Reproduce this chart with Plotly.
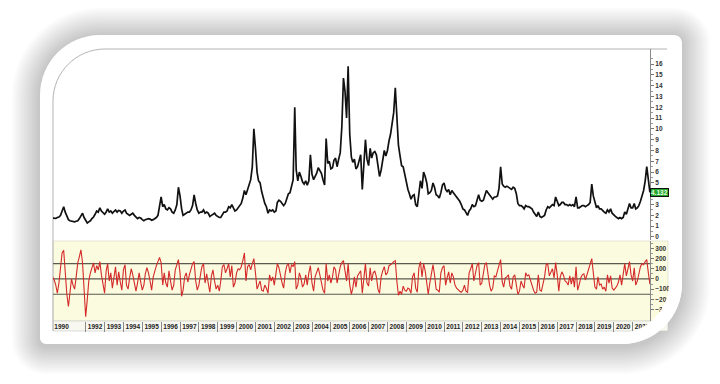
import pandas as pd
import plotly.graph_objects as go

W, H = 720, 384

# ---------------- data (monthly, Apr 1990 - Dec 2021) ----------------
price_1990s = [
    1.75, 1.70, 1.72, 1.80, 1.85, 2.00, 2.40, 2.80, 2.30,
    1.90, 1.60, 1.50, 1.45, 1.42, 1.40, 1.45, 1.50, 1.70, 1.95, 2.20, 1.80,
    1.50, 1.30, 1.40, 1.50, 1.70, 1.85, 2.10, 2.40, 2.30, 2.70, 2.40, 2.20,
    2.10, 2.30, 2.60, 2.30, 2.40, 2.20, 2.35, 2.50, 2.30, 2.45, 2.40, 2.20,
    2.40, 2.50, 2.20, 2.10, 2.00, 2.10, 2.20, 2.00, 1.80, 1.70, 1.80, 1.75,
    1.60, 1.50, 1.60, 1.65, 1.70, 1.65, 1.55, 1.60, 1.70, 1.80, 2.00, 2.70,
    3.70, 2.80, 3.00, 2.60, 2.50, 2.70, 2.60, 2.30, 2.20, 2.50, 3.00, 4.60,
    3.80, 2.60, 2.00, 2.10, 2.20, 2.30, 2.30, 2.50, 2.90, 3.90, 3.10, 2.50,
    2.20, 2.30, 2.30, 2.50, 2.20, 2.30, 2.20, 1.90, 2.00, 2.10, 2.20, 2.00,
    1.90, 1.80, 1.80, 2.10, 2.30, 2.30, 2.40, 2.80, 2.70, 3.00, 2.60, 2.40,
]
price_2000s = [
    2.50, 2.70, 2.90, 3.10, 3.60, 4.30, 3.90, 4.40, 5.00, 5.30, 6.50, 10.0,
    8.20, 6.00, 5.20, 5.00, 4.20, 3.50, 3.10, 2.80, 2.20, 2.50, 2.40, 2.50,
    2.30, 2.40, 3.20, 3.40, 3.30, 3.10, 2.90, 3.10, 3.60, 4.00, 4.10, 4.70,
    5.30, 12.0, 6.20, 5.20, 6.00, 5.60, 5.10, 4.90, 5.20, 4.80, 5.20, 7.60,
    5.80, 5.30, 5.60, 5.90, 6.40, 6.20, 5.90, 5.30, 4.80, 9.10, 6.80, 7.00,
    6.30, 6.40, 7.10, 7.30, 6.50, 7.20, 7.80, 10.2, 14.7, 13.5, 11.0, 15.8,
    9.50, 7.40, 6.90, 7.20, 6.30, 6.50, 7.00, 7.60, 4.40, 6.50, 9.00, 7.20,
    6.60, 8.20, 7.30, 7.80, 7.90, 7.60, 6.50, 5.60, 6.20, 7.20, 8.00, 7.50,
    8.00, 8.90, 9.50, 10.5, 11.5, 13.8, 11.5, 8.50, 7.50, 6.60, 6.50, 5.70,
    5.00, 4.40, 4.00, 3.50, 3.80, 3.90, 3.00, 2.80, 4.00, 5.20, 4.50, 6.00,
]
price_2010s = [
    5.60, 5.00, 4.00, 4.10, 4.30, 5.00, 4.60, 3.90, 3.80, 3.60, 4.10, 4.80,
    5.00, 4.40, 4.20, 4.40, 3.90, 4.30, 4.10, 3.90, 3.80, 3.50, 3.30, 3.00,
    2.60, 2.50, 2.20, 2.00, 2.40, 2.60, 3.00, 2.80, 2.90, 3.40, 3.90, 3.40,
    3.30, 3.40, 3.90, 4.30, 4.10, 3.90, 3.60, 3.50, 3.70, 3.70, 3.80, 4.50,
    6.50, 4.90, 4.70, 4.60, 4.70, 4.60, 4.50, 4.40, 4.60, 4.50, 4.00, 3.10,
    2.90, 2.90, 2.80, 2.60, 2.90, 2.80, 2.80, 2.70, 2.60, 2.30, 2.10, 1.90,
    2.30, 1.90, 1.80, 1.90, 2.00, 2.50, 2.80, 2.70, 2.90, 3.00, 2.90, 3.70,
    3.30, 2.90, 3.00, 3.20, 3.20, 3.00, 3.00, 2.90, 3.00, 2.90, 3.00, 2.80,
    3.70, 2.70, 2.70, 2.80, 2.90, 2.90, 2.80, 2.90, 3.00, 3.20, 4.90, 3.80,
    3.10, 2.70, 2.90, 2.60, 2.60, 2.40, 2.30, 2.20, 2.50, 2.30, 2.60, 2.20,
]
price_2020s = [
    2.00, 1.90, 1.80, 1.70, 1.80, 1.70, 1.80, 2.30, 2.10, 2.60, 3.10, 2.70,
    2.70, 3.10, 2.60, 2.70, 2.90, 3.30, 3.80, 4.30, 5.20, 6.50, 5.30, 4.132,
]

cci_1990s = [
    20, -10, -60, -140, -40, 120, 255, 280, 40,
    -150, -270, -120, 0, -60, -100, 20, 157, 220, 285, 157, -120,
    -370, -200, -20, 60, 120, 157, 60, 130, 90, 170, 40, -60,
    -140, 80, 150, -20, 60, -90, 40, 120, -60, 70, -30, -110,
    90, 140, -60, -100, 10, 100, 40, -60, -120, -40, 60, -30,
    -110, -60, 50, 110, 60, -20, -110, 20, 90, 130, 170, 210,
    160, -60, 60, -40, -80, 80, -20, -110, -60, 90, 140, 190,
    60, -170, -110, 20, 60, -30, 40, 100, 150, 170, -20, -110,
    -60, 40, 120, 150, -40, 50, -60, -130, 30, 90, -20, -100,
    -60, -120, -20, 120, 140, 60, 100, 150, 20, 130, -80, -40,
]
cci_2000s = [
    60, 100, 90, 120, 180, 255, -20, 120, 140, 90, 150, 200,
    60, -100, -60, -20, -110, -120, -60, -90, -140, 40, -20, 20,
    -60, 40, 150, 110, 20, -40, -90, 60, 130, 150, 60, 140,
    120, 170, -100, -60, 60, 10, -80, -50, 40, -60, 60, 130,
    -40, -120, 20, 80, 110, 40, -30, -110, -140, 150, -20, 40,
    -40, 20, 120, 90, -40, 60, 120, 160, 180, 80, -20, 150,
    -60, -150, -90, 20, -80, 30, 60, 80, -140, 40, 150, -40,
    -70, 110, -20, 60, 80, 20, -100, -140, 20, 80, 120, 40,
    60, 130, 140, 150, 170, 180, -20, -160, -120, -150, -70, -110,
    -120, -90, -100, -140, 20, 60, -90, -130, 110, 170, 20, 150,
]
cci_2010s = [
    80, -40, -150, -40, 60, 140, 40, -100, -110, -130, 60, 110,
    130, -60, 10, 70, -40, 60, 20, -60, -90, -110, -120, -130,
    -110, -60, -120, -130, 60, 100, 150, -20, 60, 130, 160, -60,
    -40, 40, 140, 160, 40, -60, -120, -90, 30, 20, 80, 150,
    190, -30, -80, 10, 20, 40, -70, -100, 20, 40, -60, -150,
    -120, -20, -60, -90, 60, 30, 40, -20, -60, -110, -140, -130,
    40, -110, -120, -40, 20, 140, 150, 30, 60, 100, 10, 160,
    40, -120, 20, 70, 40, -20, -30, -60, 30, -50, 20, -80,
    120, -110, -60, 10, 40, 50, -10, 40, 80, 130, 200, 60,
    -80, -100, 20, -60, -50, -100, -80, -120, 40, -40, 30, -90,
]
cci_2020s = [
    -110, -90, -70, -30, 40, -60, 30, 150, 30, 120, 170, 40,
    -20, 110, -60, -20, 70, 120, 150, 140, 170, 190, 60, -50,
]

year_labels = ["1990"] + [str(y) for y in range(1992, 2022)]
year_label_dates = ["1990-09-20"] + [f"{y}-07-01" for y in range(1992, 2022)]
year_separators = [f"{y}-01-01" for y in range(1992, 2022)]
price_ticks = list(range(0, 17))
price_tick_text = ["" if v == 4 else str(v) for v in price_ticks]  # "4" hidden behind last-value box
cci_ticks = [300, 200, 100, 0, -100, -200, -300]
cci_levels = [150, 0, -150]
last_label = "4.132"

price = price_1990s + price_2000s + price_2010s + price_2020s
cci = cci_1990s + cci_2000s + cci_2010s + cci_2020s
dates = pd.date_range("1990-04-01", periods=len(price), freq="MS")

# ---------------- helpers (pixel -> paper) ----------------
def px(x, y):
    return f"{x / W:.5f},{1 - y / H:.5f}"

K = 0.5523

def rrect(x0, y0, x1, y1, rtl, rtr, rbr, rbl):
    return (
        f"M{px(x0 + rtl, y0)} L{px(x1 - rtr, y0)} "
        f"C{px(x1 - rtr + K * rtr, y0)} {px(x1, y0 + rtr - K * rtr)} {px(x1, y0 + rtr)} "
        f"L{px(x1, y1 - rbr)} "
        f"C{px(x1, y1 - rbr + K * rbr)} {px(x1 - rbr + K * rbr, y1)} {px(x1 - rbr, y1)} "
        f"L{px(x0 + rbl, y1)} "
        f"C{px(x0 + rbl - K * rbl, y1)} {px(x0, y1 - rbl + K * rbl)} {px(x0, y1 - rbl)} "
        f"L{px(x0, y0 + rtl)} "
        f"C{px(x0, y0 + rtl - K * rtl)} {px(x0 + rtl - K * rtl, y0)} {px(x0 + rtl, y0)} Z"
    )

shapes = []
# soft shadow
for i in range(1, 15):
    e = 2 * i
    shapes.append(dict(type="path", xref="paper", yref="paper", layer="below",
                       path=rrect(40 - e, 35 - e + 1, 682 + e, 344 + e + 2,
                                  60 + e, 8 + e, 60 + e, 6 + e),
                       fillcolor="rgba(0,0,0,0.016)", line=dict(width=0)))
# white card
shapes.append(dict(type="path", xref="paper", yref="paper", layer="below",
                   path=rrect(40, 35, 682, 344, 60, 8, 60, 6),
                   fillcolor="white", line=dict(width=0)))
# yellow indicator panel
shapes.append(dict(type="rect", xref="paper", yref="paper", layer="below",
                   x0=53 / W, x1=668 / W, y0=1 - 321 / H, y1=1 - 241 / H,
                   fillcolor="#fbfbdf", line=dict(width=0.6, color="#d8d8c8")))
# date strip
shapes.append(dict(type="rect", xref="paper", yref="paper", layer="below",
                   x0=53 / W, x1=668 / W, y0=1 - 331 / H, y1=1 - 321 / H,
                   fillcolor="#f8f8f0", line=dict(width=0.6, color="#c8c8c8")))
# picture frame (left + top with rounded corner)
R = 52
shapes.append(dict(type="path", xref="paper", yref="paper", layer="below",
                   path=(f"M{px(53, 331)} L{px(53, 49 + R)} "
                         f"C{px(53, 49 + R - K * R)} {px(53 + R - K * R, 49)} {px(53 + R, 49)} "
                         f"L{px(667, 49)}"),
                   line=dict(width=1, color="#b4b4b4")))
# level lines in indicator
for lv in cci_levels:
    shapes.append(dict(type="line", xref="x2 domain", yref="y2", layer="below",
                       x0=0, x1=1, y0=lv, y1=lv, line=dict(width=1.2, color="#5a5a50")))
# mask the picture's bottom-right rounded corner
r2 = 50
cx2, cy2 = 669, 333
rc = 60
shapes.append(dict(type="path", xref="paper", yref="paper", layer="above",
                   path=(f"M{px(cx2, cy2 - r2)} L{px(682, cy2 - r2)} L{px(682, 344 - rc)} "
                         f"C{px(682, 344 - rc + K * rc)} {px(682 - rc + K * rc, 344)} {px(682 - rc, 344)} "
                         f"L{px(cx2 - r2, 344)} L{px(cx2 - r2, cy2)} "
                         f"C{px(cx2 - r2 + K * r2, cy2)} {px(cx2, cy2 - r2 + K * r2)} {px(cx2, cy2 - r2)} Z"),
                   fillcolor="white", line=dict(width=0)))

tickfont = dict(family="Liberation Sans", size=6.5, color="#333333", weight="bold")
xr = ["1990-04-08", "2021-12-03"]

fig = go.Figure()
fig.add_trace(go.Scatter(x=dates, y=price, mode="lines", xaxis="x", yaxis="y",
                         line=dict(color="#111111", width=1.7), hoverinfo="skip"))
fig.add_trace(go.Scatter(x=dates, y=cci, mode="lines", xaxis="x2", yaxis="y2",
                         line=dict(color="#d42a2a", width=1.1), hoverinfo="skip"))

fig.update_layout(
    width=W, height=H, margin=dict(l=0, r=0, t=0, b=0),
    paper_bgcolor="white", plot_bgcolor="rgba(0,0,0,0)", showlegend=False,
    xaxis=dict(domain=[53 / W, 650 / W], anchor="y", type="date", range=xr,
               showticklabels=False, showgrid=False, zeroline=False, showline=False),
    yaxis=dict(domain=[1 - 240 / H, 1 - 49 / H], anchor="x", side="right",
               range=[-0.28, 17.39], tickvals=price_ticks, ticktext=price_tick_text,
               ticks="outside", ticklen=3,
               tickcolor="#777", showline=True, linecolor="#8a8a8a", linewidth=1,
               showgrid=False, zeroline=False, tickfont=tickfont,
               minor=dict(tickvals=[v + 0.5 for v in price_ticks], ticks="outside",
                          ticklen=2, tickcolor="#999")),
    xaxis2=dict(domain=[53 / W, 650 / W], anchor="y2", type="date", range=xr,
                matches="x", tickvals=year_label_dates, ticktext=year_labels, ticks="",
                showline=False, showgrid=False, zeroline=False,
                tickfont=dict(family="Liberation Sans", size=6.5, color="#222222", weight="bold"),
                minor=dict(tickvals=year_separators, ticks="outside", ticklen=10,
                           tickcolor="#8a8a8a", tickwidth=1)),
    yaxis2=dict(domain=[1 - 321 / H, 1 - 241 / H], anchor="x2", side="right",
                range=[-412, 372], tickvals=cci_ticks, ticks="outside", ticklen=3,
                tickcolor="#777", showline=True, linecolor="#8a8a8a", linewidth=1,
                showgrid=False, zeroline=False, tickfont=tickfont,
                minor=dict(tickvals=[v + 50 for v in cci_ticks], ticks="outside",
                           ticklen=2, tickcolor="#999")),
    shapes=shapes,
    annotations=[dict(xref="x domain", yref="y", x=1, y=price[-1], xanchor="left",
                      yanchor="middle", text=last_label, showarrow=False,
                      bgcolor="#22a52a", bordercolor="#111", borderwidth=1, borderpad=0,
                      font=dict(family="Liberation Sans", size=6.5, color="#e6ffe6", weight="bold"))],
)

fig.write_html("out.html")
